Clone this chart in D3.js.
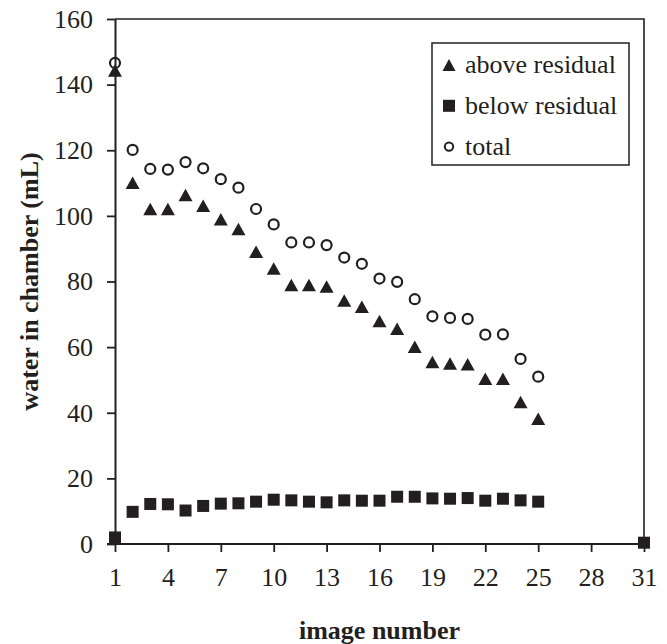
<!DOCTYPE html>
<html>
<head>
<meta charset="utf-8">
<script src="https://cdn.jsdelivr.net/npm/d3@7"></script>
<style>
  body { margin: 0; background: #fff; }
  svg text { font-family: "Liberation Serif", "Tinos", "Times New Roman", "DejaVu Serif", serif; fill: #231f20; }
</style>
</head>
<body>
<div id="chart"></div>
<script>
// image numbers and measured water volumes (mL)
const images = [1, 2, 3, 4, 5, 6, 7, 8, 9, 10, 11, 12, 13, 14, 15, 16, 17, 18, 19, 20, 21, 22, 23, 24, 25];
const aboveResidual = [144.3, 110.1, 102.1, 102.1, 106.4, 103.1, 99.0, 96.0, 89.1, 84.0, 78.9, 78.9, 78.5,
                       74.2, 72.3, 68.0, 65.6, 60.1, 55.5, 55.0, 54.8, 50.4, 50.4, 43.3, 38.2];
const belowResidual = [2.0, 9.8, 12.2, 12.1, 10.2, 11.6, 12.3, 12.4, 12.9, 13.5, 13.3, 12.9, 12.7,
                       13.3, 13.2, 13.2, 14.4, 14.4, 13.9, 13.8, 14.0, 13.2, 13.8, 13.3, 12.9];
const total = [146.6, 120.1, 114.3, 114.1, 116.4, 114.5, 111.2, 108.6, 102.1, 97.4, 91.9, 91.9, 91.1,
               87.3, 85.4, 80.9, 79.9, 74.6, 69.4, 68.9, 68.6, 63.8, 63.9, 56.4, 51.0];
// lone point drawn at the far end of the x axis
const extraImage = [31];
const extraBelow = [0.4];

const xTicks = [1, 4, 7, 10, 13, 16, 19, 22, 25, 28, 31];
const yTicks = [0, 20, 40, 60, 80, 100, 120, 140, 160];
const legendLabels = ["above residual", "below residual", "total"];

var margin = {top: 19, right: 23, bottom: 100, left: 115},
    width = 667 - margin.left - margin.right,
    height = 644 - margin.top - margin.bottom;

const ink = "#231f20";
const serif = "'Liberation Serif', 'Tinos', 'Times New Roman', 'DejaVu Serif', serif";

var svg = d3.select("#chart").append("svg")
    .attr("width", 667)
    .attr("height", 644);

var g = svg.append("g")
    .attr("transform", "translate(" + margin.left + "," + margin.top + ")");

var x = d3.scaleLinear().domain([1, 31]).range([0, width]);
var y = d3.scaleLinear().domain([0, 160]).range([height, 0]);

// frame (top and right sides)
g.append("path")
    .attr("d", "M0,0H" + width + "V" + height)
    .attr("fill", "none")
    .attr("stroke", ink)
    .attr("stroke-width", 1.6);

var xAxis = g.append("g")
    .attr("transform", "translate(0," + height + ")")
    .call(d3.axisBottom(x).tickValues(xTicks).tickSize(8).tickPadding(16).tickSizeOuter(0));
var yAxis = g.append("g")
    .call(d3.axisLeft(y).tickValues(yTicks).tickSize(8).tickPadding(14).tickSizeOuter(0));

[xAxis, yAxis].forEach(function(a) {
    a.attr("font-family", serif);
    a.select(".domain").attr("stroke", ink).attr("stroke-width", 2);
    a.selectAll(".tick line").attr("stroke", ink).attr("stroke-width", 1.8);
    a.selectAll(".tick text").attr("font-size", 26).attr("fill", ink);
});
// extend the x domain line to the left under the 0 tick
xAxis.select(".domain").attr("d", "M-8,0H" + width);

// axis titles
svg.append("text")
    .attr("x", margin.left + width / 2)
    .attr("y", 639)
    .attr("text-anchor", "middle")
    .attr("font-size", 26)
    .attr("font-weight", "bold")
    .text("image number");

svg.append("text")
    .attr("transform", "translate(38," + (margin.top + height / 2) + ") rotate(-90)")
    .attr("text-anchor", "middle")
    .attr("font-size", 26)
    .attr("font-weight", "bold")
    .text("water in chamber (mL)");

// marker shapes
function triPath(w, h) {
    return "M0," + (-h / 2) + "L" + (w / 2) + "," + (h / 2) + "L" + (-w / 2) + "," + (h / 2) + "Z";
}

var belowData = images.map(function(d, i) { return {x: d, y: belowResidual[i]}; })
    .concat(extraImage.map(function(d, i) { return {x: d, y: extraBelow[i]}; }));
var aboveData = images.map(function(d, i) { return {x: d, y: aboveResidual[i]}; });
var totalData = images.map(function(d, i) { return {x: d, y: total[i]}; });

g.selectAll(".sq").data(belowData).enter().append("rect")
    .attr("class", "sq")
    .attr("x", function(d) { return x(d.x) - 6; })
    .attr("y", function(d) { return y(d.y) - 6; })
    .attr("width", 12)
    .attr("height", 12)
    .attr("fill", ink);

g.selectAll(".tri").data(aboveData).enter().append("path")
    .attr("class", "tri")
    .attr("d", triPath(14, 12.5))
    .attr("transform", function(d) { return "translate(" + x(d.x) + "," + y(d.y) + ")"; })
    .attr("fill", ink);

g.selectAll(".circ").data(totalData).enter().append("circle")
    .attr("class", "circ")
    .attr("cx", function(d) { return x(d.x); })
    .attr("cy", function(d) { return y(d.y); })
    .attr("r", 5)
    .attr("fill", "none")
    .attr("stroke", ink)
    .attr("stroke-width", 2.2);

// legend
var legend = svg.append("g").attr("transform", "translate(432,43)");
legend.append("rect")
    .attr("width", 197)
    .attr("height", 122)
    .attr("fill", "#fff")
    .attr("stroke", ink)
    .attr("stroke-width", 1.5);

legendLabels.forEach(function(label, i) {
    var cy = 22 + i * 40.8;
    var row = legend.append("g").attr("transform", "translate(17," + cy + ")");
    if (i === 0) {
        row.append("path").attr("d", triPath(13, 12)).attr("fill", ink);
    } else if (i === 1) {
        row.append("rect").attr("x", -6).attr("y", -6).attr("width", 12).attr("height", 12).attr("fill", ink);
    } else {
        row.append("circle").attr("r", 4.2).attr("fill", "none").attr("stroke", ink).attr("stroke-width", 2);
    }
    row.append("text")
        .attr("x", 16)
        .attr("y", 8)
        .attr("font-size", 26)
        .text(label);
});
</script>
</body>
</html>
